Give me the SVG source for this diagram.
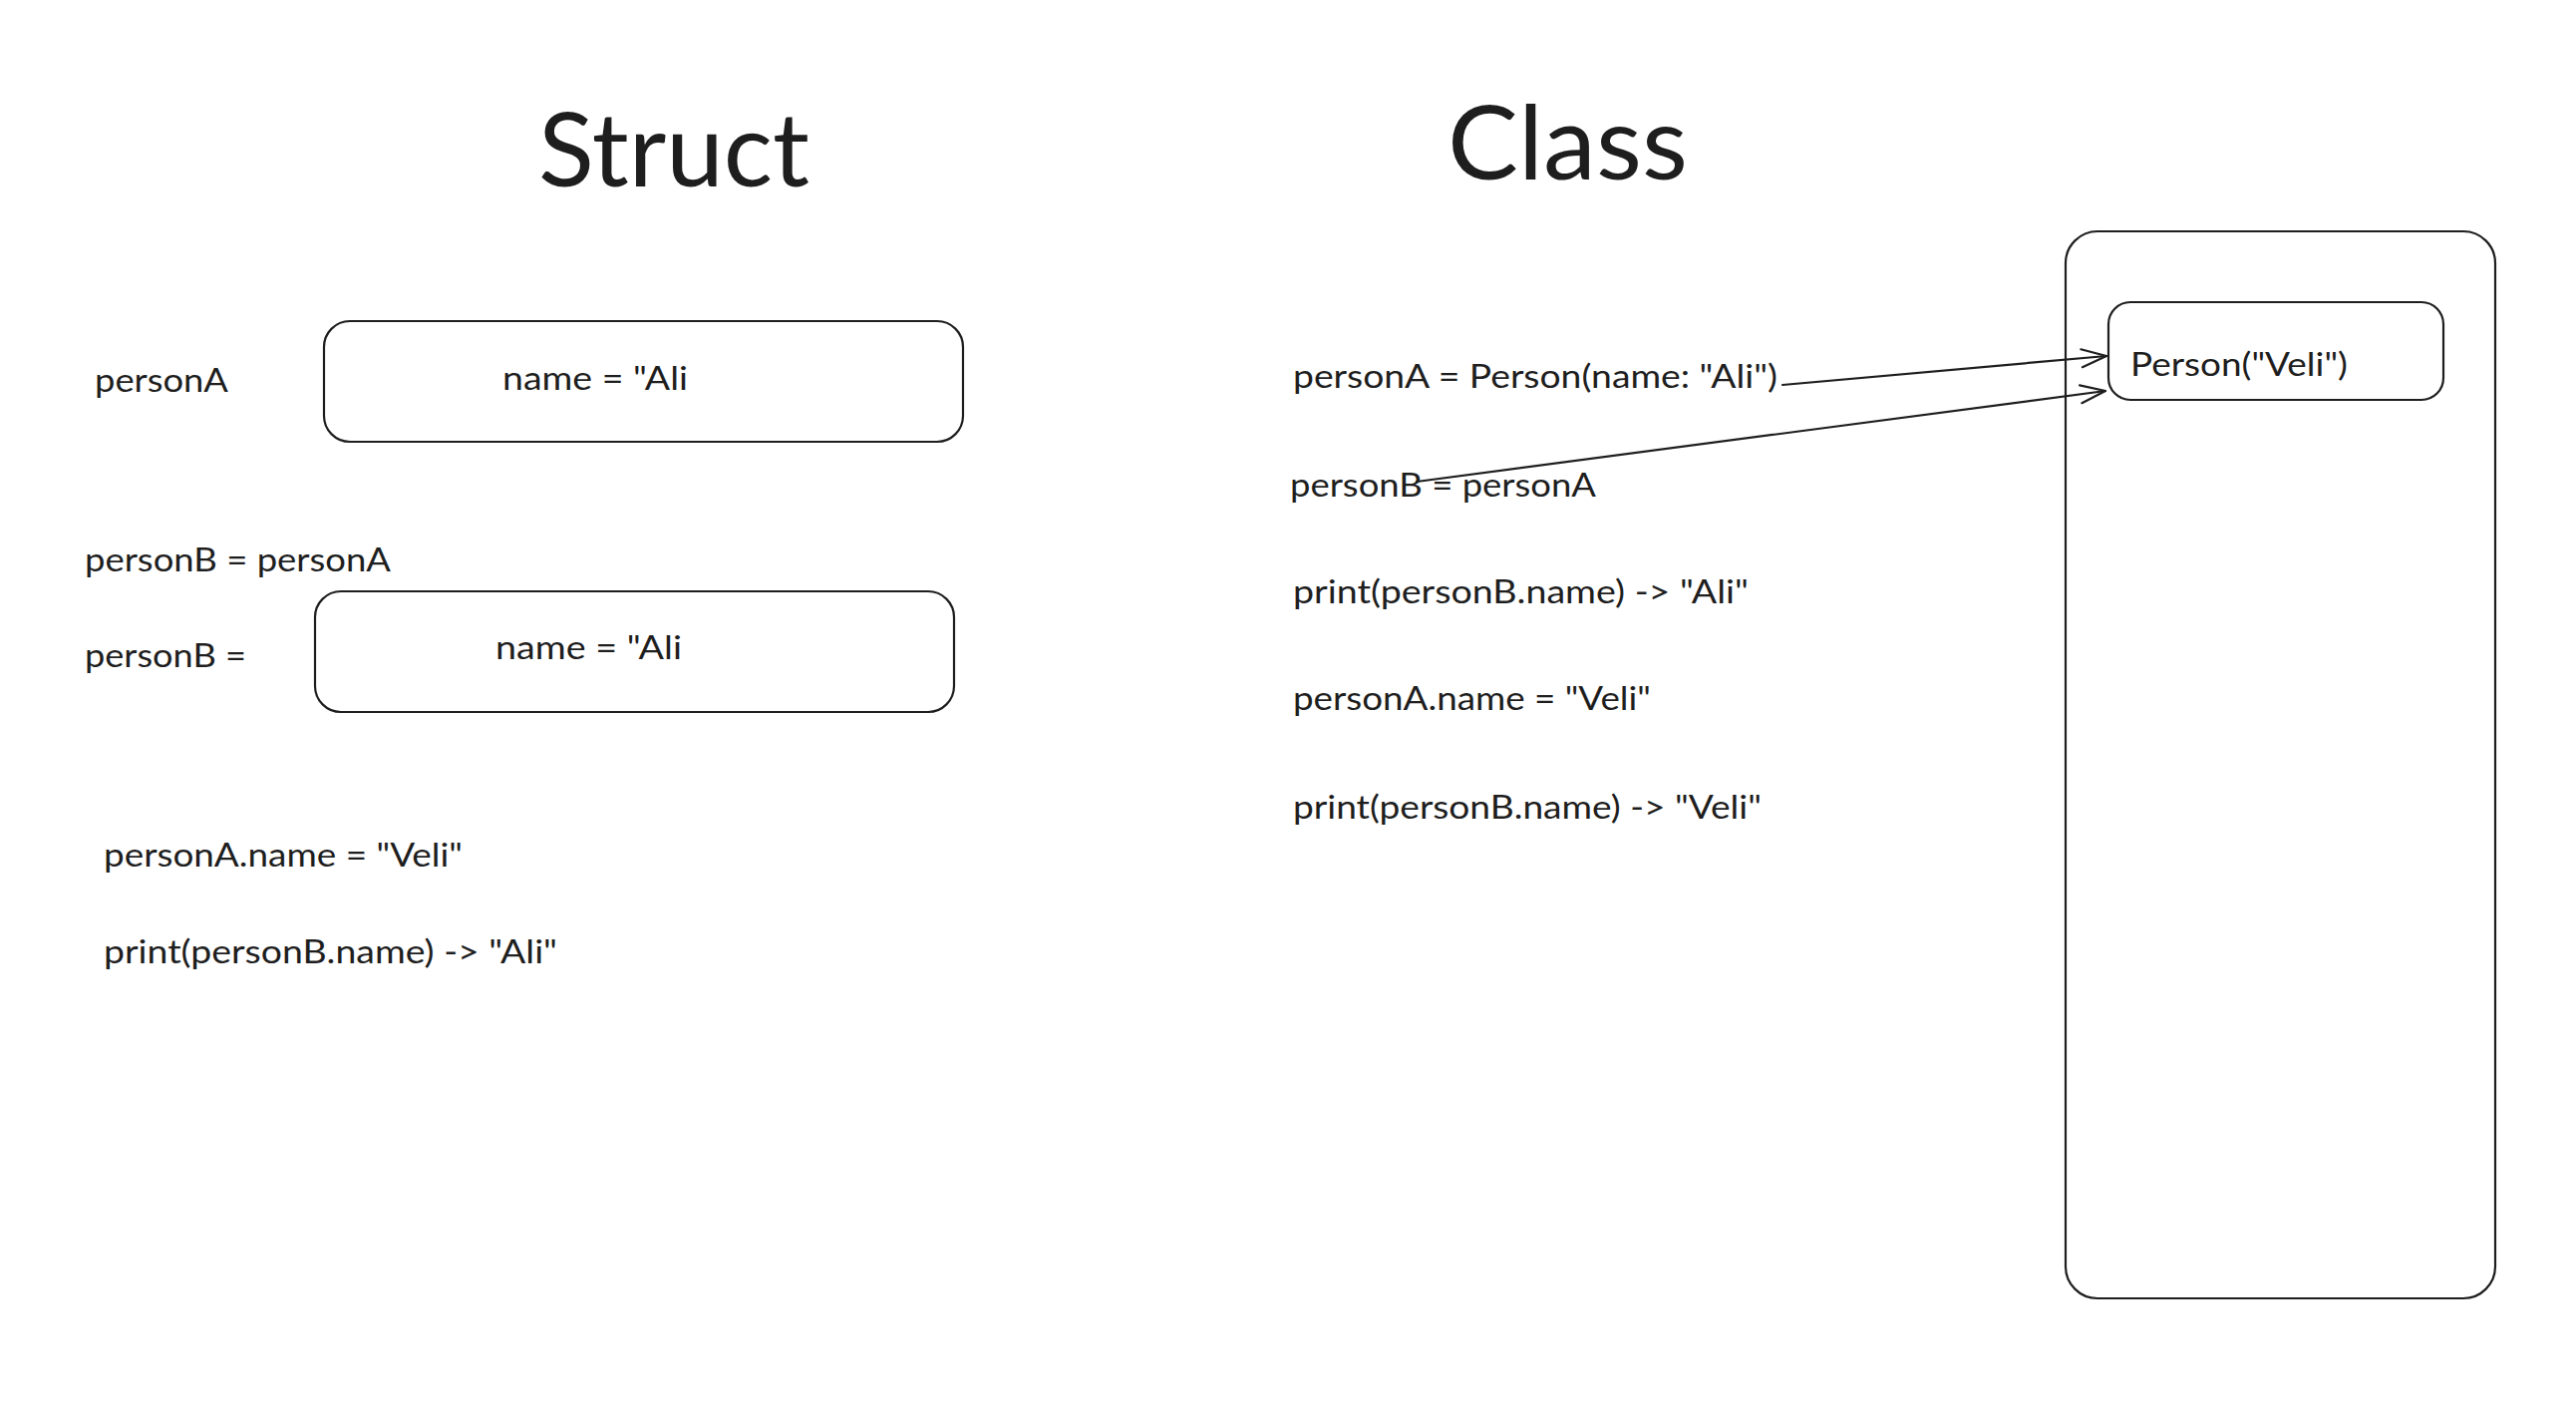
<svg xmlns="http://www.w3.org/2000/svg" width="2584" height="1430" viewBox="0 0 2584 1430">
<style>
.t{font-family:Lato,"Noto Sans","Liberation Sans",sans-serif;font-size:33px;fill:#1e1e1e}
.h{font-family:Lato,"Noto Sans","Liberation Sans",sans-serif;font-size:102px;fill:#1e1e1e}
.box{fill:none;stroke:#1e1e1e;stroke-width:2.2}
.ln{fill:none;stroke:#1e1e1e;stroke-width:2.2;stroke-linecap:round;stroke-linejoin:round}
</style>
<defs>
<marker id="arr" viewBox="0 0 30 30" refX="28" refY="15" markerWidth="30" markerHeight="30" markerUnits="userSpaceOnUse" orient="auto">
<path d="M3 6 L28 15 L3 24" fill="none" stroke="#1e1e1e" stroke-width="2.2" stroke-linecap="round" stroke-linejoin="round"/>
</marker>
</defs>
<rect width="2584" height="1430" fill="#ffffff"/>
<g id="title-struct"><text class="h" x="540" y="187" textLength="272" lengthAdjust="spacingAndGlyphs">Struct</text></g>
<g id="title-class"><text class="h" x="1452" y="180" textLength="241" lengthAdjust="spacingAndGlyphs">Class</text></g>

<g id="struct-personA-label"><text class="t" x="95" y="393" textLength="134" lengthAdjust="spacingAndGlyphs">personA</text></g>
<g id="struct-personA-box">
<rect class="box" x="325" y="322" width="641" height="121" rx="26"/>
<text class="t" x="504" y="391" textLength="186" lengthAdjust="spacingAndGlyphs">name = "Ali</text>
</g>
<g id="struct-assign"><text class="t" x="85" y="573" textLength="307" lengthAdjust="spacingAndGlyphs">personB = personA</text></g>
<g id="struct-personB-label"><text class="t" x="85" y="669" textLength="162" lengthAdjust="spacingAndGlyphs">personB =</text></g>
<g id="struct-personB-box">
<rect class="box" x="316" y="593" width="641" height="121" rx="26"/>
<text class="t" x="497" y="661" textLength="187" lengthAdjust="spacingAndGlyphs">name = "Ali</text>
</g>
<g id="struct-set"><text class="t" x="104" y="869" textLength="360" lengthAdjust="spacingAndGlyphs">personA.name = "Veli"</text></g>
<g id="struct-print"><text class="t" x="104" y="966" textLength="455" lengthAdjust="spacingAndGlyphs">print(personB.name) -&gt; "Ali"</text></g>

<g id="class-personA"><text class="t" x="1297" y="389" textLength="486" lengthAdjust="spacingAndGlyphs">personA = Person(name: "Ali")</text></g>
<g id="class-personB"><text class="t" x="1294" y="498" textLength="307" lengthAdjust="spacingAndGlyphs">personB = personA</text></g>
<g id="class-print1"><text class="t" x="1297" y="605" textLength="457" lengthAdjust="spacingAndGlyphs">print(personB.name) -&gt; "Ali"</text></g>
<g id="class-set"><text class="t" x="1297" y="712" textLength="359" lengthAdjust="spacingAndGlyphs">personA.name = "Veli"</text></g>
<g id="class-print2"><text class="t" x="1297" y="821" textLength="470" lengthAdjust="spacingAndGlyphs">print(personB.name) -&gt; "Veli"</text></g>

<g id="heap"><rect class="box" x="2072" y="232" width="431" height="1070" rx="32"/></g>
<g id="person-object">
<rect class="box" x="2115" y="303" width="336" height="98" rx="22"/>
<text class="t" x="2137" y="377" textLength="218" lengthAdjust="spacingAndGlyphs">Person("Veli")</text>
</g>

<g id="connectors">
<path class="ln" d="M1788 386 L2113 357" marker-end="url(#arr)"/>
<path class="ln" d="M1421 483 L2112 392" marker-end="url(#arr)"/>
</g>
</svg>
